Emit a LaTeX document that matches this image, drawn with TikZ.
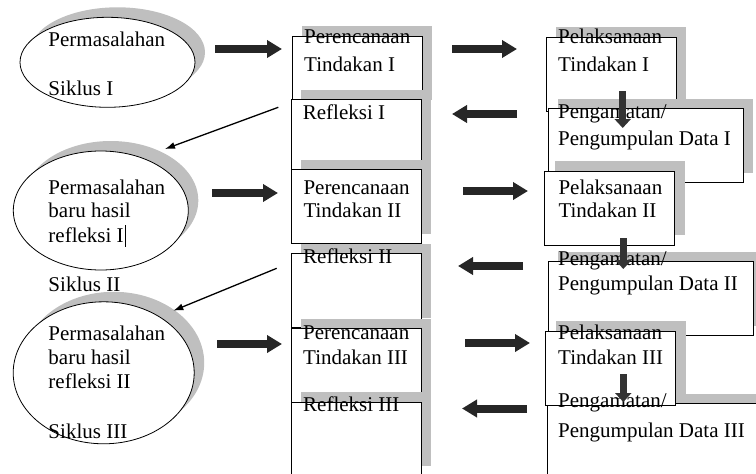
\documentclass[tikz,border=0pt]{standalone}
\usepackage{fontspec}
\setmainfont{Liberation Serif}
\usetikzlibrary{shapes.geometric,shadows,arrows.meta}
\newcommand{\txtlines}[1]{\begin{tabular}[t]{@{}l@{}}#1\end{tabular}}

\begin{document}
\begin{tikzpicture}[x=1pt, y=-1pt,
  sdw/.style={drop shadow={shadow xshift=10pt, shadow yshift=10pt, fill=black!25, opacity=1}},
  box/.style={draw, fill=white, line width=1.1pt, minimum width=130pt, minimum height=74pt, inner sep=0pt, anchor=north west, sdw},
  ell/.style={ellipse, draw, fill=white, line width=0.8pt, inner sep=0pt, sdw},
  txt/.style={anchor=base west, inner sep=0pt, font=\fontsize{21}{#1}\selectfont},
  txt/.default=23.5,
  blockarr/.style={line width=8pt, draw=black!85, -{Triangle[length=15pt,width=17pt]}},
  downarr/.style={line width=7pt, draw=black!80, -{Triangle[length=9pt,width=16pt]}},
  thinarr/.style={line width=1.3pt, -{Latex[length=10pt,width=7pt]}}]
  \useasboundingbox (0,0) rectangle (756,474);

  % permasalahan
  \node[ell, minimum width=175pt, minimum height=90pt] (ell1) at (107.5,62.3) {};
  \node[ell, minimum width=175pt, minimum height=119pt] (ell2) at (100.8,210.5) {};
  \node[ell, minimum width=181pt, minimum height=142pt] (ell3) at (103.7,372.8) {};
  \node[txt] (ell1t) at (48.3,46.7) {Permasalahan};
  \node[txt] (sik1) at (48.3,95) {Siklus I};
  \node[txt=23.4] (ell2t) at (48.3,194.3) {\txtlines{Permasalahan\\baru hasil\\refleksi I\hspace{1pt}\rule[-4pt]{1.2pt}{22pt}}};
  \node[txt] (sik2) at (48.3,291.7) {Siklus II};
  \node[txt=23.8] (ell3t) at (48.3,340.7) {\txtlines{Permasalahan\\baru hasil\\refleksi II}};
  \node[txt] (sik3) at (48.3,438.3) {Siklus III};

  % perencanaan / refleksi
  \node[box] (per1) at (291.7,35.7) {};
  \node[txt=28.4] (per1t) at (304,43.3) {\txtlines{Perencanaan\\Tindakan I}};
  \node[box] (ref1) at (290.7,99) {};
  \node[txt] (ref1t) at (302.7,119.3) {Refleksi I};
  \node[box] (per2) at (290.7,169.3) {};
  \node[txt=23] (per2t) at (303.3,194.5) {\txtlines{Perencanaan\\Tindakan II}};
  \node[box] (ref2) at (290.7,253.3) {};
  \node[txt] (ref2t) at (303,263) {Refleksi II};
  \node[box] (per3) at (290.7,328.3) {};
  \node[txt=25] (per3t) at (303,339) {\txtlines{Perencanaan\\Tindakan III}};
  \node[box] (ref3) at (290.7,401.7) {};
  \node[txt] (ref3t) at (303,411.7) {Refleksi III};

  % pelaksanaan / pengamatan
  \node[box] (pel1) at (545.7,36.7) {};
  \node[txt=28.4] (pel1t) at (558,43.3) {\txtlines{Pelaksanaan\\Tindakan I}};
  \node[box, minimum width=195pt] (pen1) at (547.7,108.3) {};
  \node[txt=26.7] (pen1t) at (558,118.3) {\txtlines{Pengamatan/\\Pengumpulan Data I}};
  \node[box] (pel2) at (544,170.7) {};
  \node[txt=22.8] (pel2t) at (558.3,194.3) {\txtlines{Pelaksanaan\\Tindakan II}};
  \node[box, minimum width=205pt] (pen2) at (547.7,261) {};
  \node[txt=25] (pen2t) at (558,265) {\txtlines{Pengamatan/\\Pengumpulan Data II}};
  \node[box, minimum width=215pt] (pen3) at (547.3,403.3) {};
  \node[box] (pel3) at (545,330.7) {};
  \node[txt=25] (pel3t) at (558,339) {\txtlines{Pelaksanaan\\Tindakan III}};
  \node[txt=30] (pen3t) at (558,407.3) {\txtlines{Pengamatan/\\Pengumpulan Data III}};

  % arrows
  \foreach \n/\xa/\xb/\yy in {1/215/282/49, 2/452/517/49, 3/212/278/193,
      4/463/528/191, 5/217/282/344, 6/465/530/343,
      7/517/452/114, 8/523/458/266, 9/527/462/408.5}
    \draw[blockarr] (\xa,\yy) coordinate (ha\n) -- (\xb,\yy) coordinate (hb\n);
  \foreach \n/\xx/\ya/\yb in {1/622.7/91/128, 2/623.3/238/269, 3/623.3/374/402}
    \draw[downarr] (\xx,\ya) coordinate (va\n) -- (\xx,\yb) coordinate (vb\n);
  \coordinate (ta1) at (278.3,107.3);
  \coordinate (tb1) at (165,149);
  \coordinate (ta2) at (276.7,268.3);
  \coordinate (tb2) at (173.3,310.7);
  \draw[thinarr] (ta1) -- (tb1);
  \draw[thinarr] (ta2) -- (tb2);
\end{tikzpicture}
\end{document}
